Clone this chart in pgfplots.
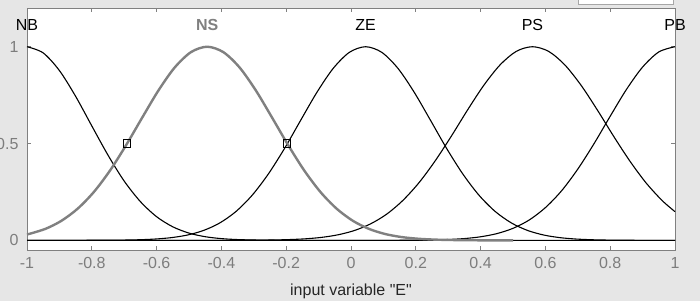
\documentclass[border=0pt]{standalone}
\usepackage{fontspec}
\setmainfont{Liberation Sans}[Ligatures=TeXOff]
\usepackage{pgfplots}
\pgfplotsset{compat=1.18}
\definecolor{bg}{RGB}{230,230,230}
\definecolor{axgray}{RGB}{128,128,128}
\definecolor{lblgray}{RGB}{125,125,125}
\definecolor{nsgray}{RGB}{128,128,128}
\begin{document}
\begin{tikzpicture}
\path[use as bounding box, clip] (0pt,0pt) rectangle (700pt,301pt);
\fill[bg] (0pt,0pt) rectangle (700pt,301pt);
\filldraw[fill=white, draw=axgray!70] (578pt,297pt) rectangle (673pt,306pt);
\begin{axis}[
  at={(27pt,51pt)}, anchor=south west,
  width=648pt, height=242pt, scale only axis,
  xmin=-1, xmax=1, ymin=-0.05, ymax=1.2,
  clip=false,
  axis background/.style={fill=white},
  axis line style={axgray, line width=1pt},
  tick style={axgray, line width=0.8pt},
  major tick length=4pt, tick align=inside,
  xtick={-1,-0.8,-0.6,-0.4,-0.2,0,0.2,0.4,0.6,0.8,1},
  xticklabels={-1,-0.8,-0.6,-0.4,-0.2,0,0.2,0.4,0.6,0.8,1},
  ytick={0,0.5,1},
  yticklabels={0,0.5,1},
  every tick label/.append style={font=\fontsize{16}{19}\selectfont, text=lblgray},
  xticklabel style={yshift=-4pt},
  yticklabel style={xshift=-5pt},
  xlabel={input variable "E"},
  xlabel style={at={(axis description cs:0.5,0)}, anchor=base, yshift=-45pt, font=\fontsize{16}{19}\selectfont, text=black!85},
]
% baseline
\addplot[black, line width=1.5pt] coordinates {(-1,0) (1,0)};
% NB
\addplot[black, line width=1.1pt, smooth] coordinates {
(-1,1) (-0.95,0.968) (-0.9,0.877) (-0.85,0.744) (-0.8,0.591) (-0.75,0.440)
(-0.7,0.306) (-0.65,0.200) (-0.6,0.122) (-0.55,0.0698) (-0.5,0.0373)
(-0.45,0.0187) (-0.4,0.0088) (-0.35,0.0039) (-0.3,0.0016) (-0.25,0.0006)
(-0.2,0) (0.2,0) (1,0)};
% ZE
\addplot[black, line width=1.1pt, smooth] coordinates {
(-1,0) (-0.855,0) (-0.805,0.0002) (-0.755,0.0005) (-0.705,0.0012) (-0.655,0.0029)
(-0.605,0.0066) (-0.555,0.0138) (-0.505,0.0273) (-0.455,0.0510) (-0.405,0.0898)
(-0.355,0.149) (-0.305,0.233) (-0.255,0.343) (-0.205,0.475) (-0.155,0.621)
(-0.105,0.765) (-0.055,0.888) (-0.005,0.971) (0.045,1) (0.095,0.971)
(0.145,0.888) (0.195,0.765) (0.245,0.621) (0.295,0.475) (0.345,0.343)
(0.395,0.233) (0.445,0.149) (0.495,0.0898) (0.545,0.0510) (0.595,0.0273)
(0.645,0.0138) (0.695,0.0066) (0.745,0.0029) (0.795,0.0012) (0.845,0.0005)
(0.895,0) (1,0)};
% PS
\addplot[black, line width=1.1pt, smooth] coordinates {
(-1,0) (-0.44,0) (-0.39,0.0001) (-0.34,0.0003) (-0.29,0.0008) (-0.24,0.0018)
(-0.19,0.0039) (-0.14,0.0079) (-0.09,0.0154) (-0.04,0.0286) (0.01,0.0504)
(0.06,0.0847) (0.11,0.135) (0.16,0.206) (0.21,0.298) (0.26,0.411)
(0.31,0.539) (0.36,0.674) (0.41,0.801) (0.46,0.906) (0.51,0.976)
(0.56,1) (0.61,0.976) (0.66,0.906) (0.71,0.801) (0.76,0.674)
(0.81,0.539) (0.86,0.411) (0.91,0.298) (0.96,0.206) (1,0.148)};
% PB
\addplot[black, line width=1.1pt, smooth] coordinates {
(-1,0) (0.1,0) (0.15,0.0003) (0.2,0.0008) (0.25,0.0019) (0.3,0.0043) (0.35,0.0091)
(0.4,0.0183) (0.45,0.0346) (0.5,0.0620) (0.55,0.105) (0.6,0.169)
(0.65,0.256) (0.7,0.368) (0.75,0.499) (0.8,0.641) (0.85,0.779)
(0.9,0.895) (0.95,0.973) (1,1)};
% NS (selected, gray)
\addplot[nsgray, line width=2.4pt, smooth] coordinates {
(-1,0.030) (-0.944,0.0587) (-0.894,0.1006) (-0.844,0.163) (-0.794,0.249)
(-0.744,0.360) (-0.694,0.492) (-0.644,0.635) (-0.594,0.775) (-0.544,0.893)
(-0.494,0.972) (-0.444,1) (-0.394,0.972) (-0.344,0.893) (-0.294,0.775)
(-0.244,0.635) (-0.194,0.492) (-0.144,0.360) (-0.094,0.249) (-0.044,0.163)
(0.006,0.1006) (0.056,0.0587) (0.106,0.0324) (0.156,0.0169) (0.206,0.0083)
(0.256,0.0039) (0.306,0.0017) (0.356,0.0007) (0.406,0) (0.5,0)};
% selection handles
\addplot[only marks, mark=square, mark size=3.8pt, black, line width=1pt] coordinates {(-0.691,0.5) (-0.197,0.5)};
% MF names
\node[font=\fontsize{16}{19}\selectfont, black] at (axis cs:-1,1.11) {NB};
\node[font=\fontsize{16}{19}\selectfont\bfseries, nsgray] at (axis cs:-0.444,1.11) {NS};
\node[font=\fontsize{16}{19}\selectfont, black] at (axis cs:0.045,1.11) {ZE};
\node[font=\fontsize{16}{19}\selectfont, black] at (axis cs:0.56,1.11) {PS};
\node[font=\fontsize{16}{19}\selectfont, black] at (axis cs:1,1.11) {PB};
\end{axis}
\end{tikzpicture}
\end{document}
